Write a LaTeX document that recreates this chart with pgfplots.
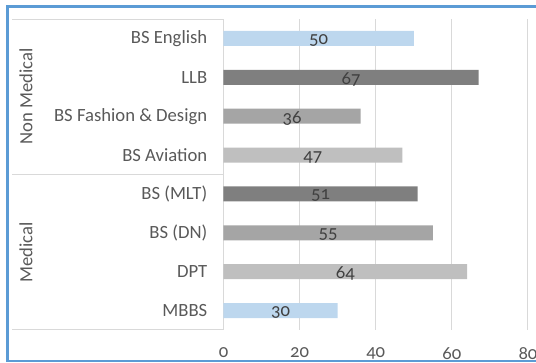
\documentclass[border=0pt]{standalone}
\usepackage{fontspec}
\setmainfont{Carlito}[Numbers=OldStyle]
\usepackage{pgfplots}
\usepackage{pgfplotstable}
\pgfplotsset{compat=1.18}

\definecolor{frameblue}{HTML}{5B9BD5}
\definecolor{gridgray}{HTML}{D9D9D9}
\definecolor{labelgray}{HTML}{595959}
\definecolor{valgray}{HTML}{404040}
\definecolor{barblue}{HTML}{BDD7EE}
\definecolor{bardark}{HTML}{7F7F7F}
\definecolor{barmid}{HTML}{A5A5A5}
\definecolor{barlight}{HTML}{BFBFBF}

% position (top = 8), enrolment
\pgfplotstableread{
pos value
8 50
7 67
6 36
5 47
4 51
3 55
2 64
1 30
}\programmes

\begin{document}
\begin{tikzpicture}
\path[use as bounding box] (0,0) rectangle (402pt,272.25pt);
\begin{scope}
\clip (0,0) rectangle (402pt,272.25pt);
\draw[frameblue, line width=1.6pt] (5.625pt,1.5pt) rectangle (412pt,267.375pt);
\end{scope}
\begin{axis}[
  at={(167.625pt,24.75pt)}, anchor=south west,
  scale only axis, width=228.375pt, height=233.25pt,
  xmin=0, xmax=80, ymin=0.5, ymax=8.5,
  xtick={0,20,40,60,80},
  ytick={1,...,8},
  yticklabels={MBBS,DPT,BS (DN),BS (MLT),BS Aviation,BS Fashion \& Design,LLB,BS English},
  xmajorgrids, grid style={gridgray, line width=0.75pt},
  axis line style={draw=none},
  major tick length=0pt,
  tick style={draw=none},
  /pgf/number format/assume math mode=true,
  tick label style={font=\fontsize{14}{16}\selectfont, text=labelgray},
  yticklabel style={inner sep=0pt, xshift=-12pt},
  xticklabel style={inner sep=0pt, yshift=-13pt},
  xbar, bar width=11.25pt, bar shift=0pt,
  clip=false,
]
\addplot[draw=none, fill=barblue] coordinates {(50,8) (30,1)};
\addplot[draw=none, fill=bardark] coordinates {(67,7) (51,4)};
\addplot[draw=none, fill=barmid] coordinates {(36,6) (55,3)};
\addplot[draw=none, fill=barlight] coordinates {(47,5) (64,2)};
% value labels centred in each bar
\addplot[xbar=0pt, draw=none, fill=none, only marks, mark=none,
  nodes near coords,
  point meta=explicit,
  every node near coord/.style={anchor=center, font=\fontsize{14}{16}\selectfont, text=valgray, yshift=-1.5pt}]
  table[x expr=\thisrow{value}/2, y=pos, meta=value] {\programmes};
% category axis frame lines and group labels
\draw[gridgray, line width=0.75pt] (axis cs:0,8.5) -- ++(-158.25pt,0pt);
\draw[gridgray, line width=0.75pt] (axis cs:0,4.5) -- ++(-158.25pt,0pt);
\draw[gridgray, line width=0.75pt] (axis cs:0,0.5) -- ++(-158.25pt,0pt);
\node[rotate=90, font=\fontsize{14}{16}\selectfont, text=labelgray] at ([xshift=-148.1pt]axis cs:0,6.5) {Non Medical};
\node[rotate=90, font=\fontsize{14}{16}\selectfont, text=labelgray] at ([xshift=-148.1pt]axis cs:0,2.5) {Medical};
\end{axis}
\end{tikzpicture}
\end{document}
